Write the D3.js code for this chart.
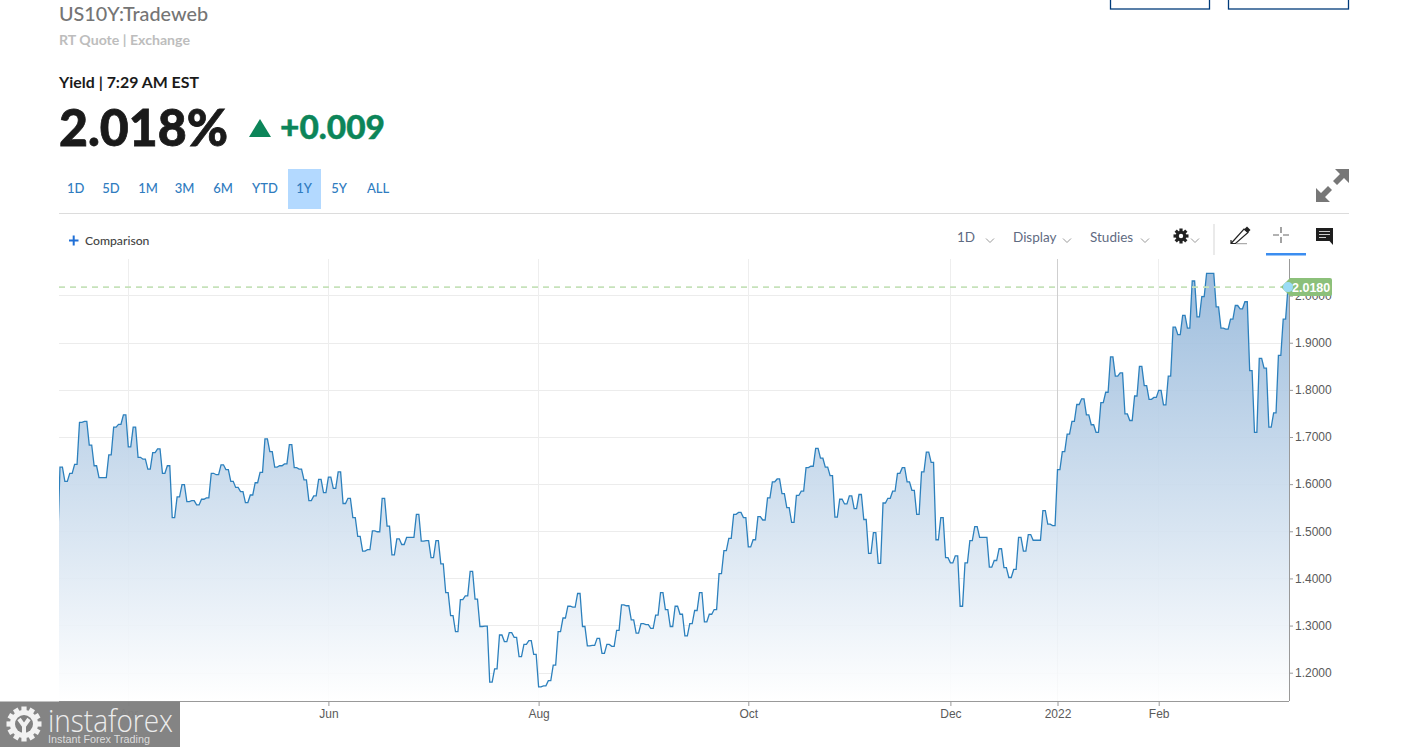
<!DOCTYPE html>
<html>
<head>
<meta charset="utf-8">
<script src="https://cdn.jsdelivr.net/npm/d3@7"></script>
<style>
  html, body { margin: 0; padding: 0; background: #fff; overflow: hidden; }
  svg { display: block; }
  text { font-family: Lato, "Open Sans", sans-serif; }
  .axis text { font-family: "Liberation Sans", Arial, sans-serif; font-size: 12px; fill: #5a5a5a; }
  .axis path, .axis line { stroke: #999; }
  .tool { font-size: 13.5px; fill: #5f6b82; }
  .chev { fill: none; stroke: #9a9a9a; stroke-width: 1; }
</style>
</head>
<body>
<script>
// trading days
var yields = [
  1.462, 1.636, 1.606, 1.623, 1.642, 1.731, 1.733, 1.683, 1.639, 1.614,
  1.614, 1.662, 1.721, 1.727, 1.747, 1.679, 1.721, 1.657, 1.653, 1.632,
  1.667, 1.675, 1.623, 1.639, 1.529, 1.573, 1.599, 1.563, 1.565, 1.556,
  1.568, 1.571, 1.623, 1.620, 1.641, 1.631, 1.606, 1.593, 1.584, 1.561,
  1.577, 1.603, 1.625, 1.696, 1.669, 1.636, 1.639, 1.643, 1.684, 1.635,
  1.632, 1.609, 1.565, 1.575, 1.610, 1.582, 1.615, 1.591, 1.626, 1.559,
  1.570, 1.529, 1.489, 1.458, 1.461, 1.501, 1.499, 1.570, 1.511, 1.450,
  1.484, 1.472, 1.487, 1.487, 1.536, 1.479, 1.480, 1.444, 1.480, 1.431,
  1.370, 1.321, 1.287, 1.355, 1.363, 1.415, 1.356, 1.298, 1.299, 1.180,
  1.208, 1.280, 1.266, 1.285, 1.275, 1.234, 1.260, 1.268, 1.239, 1.170,
  1.172, 1.183, 1.216, 1.287, 1.316, 1.341, 1.339, 1.368, 1.298, 1.257,
  1.258, 1.273, 1.241, 1.260, 1.256, 1.290, 1.344, 1.342, 1.312, 1.284,
  1.304, 1.302, 1.294, 1.322, 1.370, 1.334, 1.298, 1.341, 1.324, 1.278,
  1.304, 1.332, 1.370, 1.308, 1.324, 1.334, 1.410, 1.459, 1.485, 1.536,
  1.540, 1.529, 1.467, 1.482, 1.531, 1.524, 1.571, 1.605, 1.611, 1.580,
  1.550, 1.519, 1.576, 1.585, 1.635, 1.638, 1.676, 1.655, 1.636, 1.618,
  1.530, 1.568, 1.558, 1.575, 1.548, 1.578, 1.525, 1.453, 1.497, 1.432,
  1.560, 1.570, 1.585, 1.623, 1.635, 1.605, 1.587, 1.536, 1.626, 1.668,
  1.646, 1.482, 1.529, 1.444, 1.433, 1.448, 1.341, 1.433, 1.480, 1.510,
  1.487, 1.487, 1.424, 1.438, 1.463, 1.423, 1.402, 1.419, 1.487, 1.458,
  1.493, 1.481, 1.481, 1.544, 1.515, 1.512, 1.631, 1.669, 1.706, 1.733,
  1.769, 1.781, 1.747, 1.726, 1.710, 1.773, 1.795, 1.870, 1.829, 1.836,
  1.749, 1.735, 1.787, 1.850, 1.809, 1.780, 1.784, 1.799, 1.768, 1.829,
  1.933, 1.917, 1.958, 1.931, 2.031, 1.955, 1.998, 2.047, 2.047, 1.976,
  1.931, 1.929, 1.950, 1.979, 1.972, 1.987, 1.841, 1.710, 1.867, 1.846,
  1.721, 1.751, 1.873, 1.950, 2.018
];
var monthLabels = ['Apr', 'Jun', 'Aug', 'Oct', 'Dec', '2022', 'Feb'];
var monthIndex = [15, 56, 99, 142, 184, 206, 227];
var monthPixel = [128.3, 328.4, 538.6, 748.3, 950.4, 1057.5, 1158.7];
var yTicks = [1.2, 1.3, 1.4, 1.5, 1.6, 1.7, 1.8, 1.9, 2.0];
var lastValue = 2.018;
var rangeLabels = ['1D', '5D', '1M', '3M', '6M', 'YTD', '1Y', '5Y', 'ALL'];
var rangeCenters = [75.6, 111, 148, 184.5, 223, 265, 304, 339, 378];

var left = 59, right = 1289, top_ = 259, bottom = 701;

var svg = d3.select('body').append('svg')
    .attr('width', 1422)
    .attr('height', 747);

var defs = svg.append('defs');
defs.append('clipPath').attr('id', 'plot').append('rect')
    .attr('x', left).attr('y', top_)
    .attr('width', right - left).attr('height', bottom - top_);
var grad = defs.append('linearGradient').attr('id', 'fade')
    .attr('gradientUnits', 'userSpaceOnUse')
    .attr('x1', 0).attr('x2', 0).attr('y1', 274).attr('y2', bottom);
grad.append('stop').attr('offset', 0).attr('stop-color', '#94b7da');
grad.append('stop').attr('offset', 1).attr('stop-color', '#ffffff');

// header, stretched to the widths of the original font
function headText(x, y, size, weight, color, width, label) {
  return svg.append('text')
      .attr('x', x).attr('y', y)
      .attr('font-size', size)
      .attr('font-weight', weight)
      .attr('fill', color)
      .attr('textLength', width)
      .attr('lengthAdjust', 'spacingAndGlyphs')
      .text(label);
}
headText(59, 21, 19.5, 500, '#757575', 149, 'US10Y:Tradeweb');
headText(59, 45, 13.5, 700, '#bdbdbd', 131, 'RT Quote | Exchange');
headText(59, 88, 15, 700, '#1a1a1a', 140, 'Yield | 7:29 AM EST');
headText(59, 146, 52, 900, '#1a1a1a', 169, '2.018%').attr('stroke', '#1a1a1a').attr('stroke-width', 0.8);
svg.append('path').attr('d', 'M249,137L260,119L271,137Z').attr('fill', '#0c8559');
headText(280, 139, 33, 900, '#0c8559', 105, '+0.009').attr('stroke', '#0c8559').attr('stroke-width', 0.4);

// buttons cut off at the top
svg.append('rect').attr('x', 1110.5).attr('y', -5).attr('width', 99).attr('height', 14).attr('fill', 'none').attr('stroke', '#003b7a').attr('stroke-width', 1.3);
svg.append('rect').attr('x', 1228.5).attr('y', -5).attr('width', 120).attr('height', 14).attr('fill', 'none').attr('stroke', '#003b7a').attr('stroke-width', 1.3);

// range buttons
svg.append('rect').attr('x', 288).attr('y', 169).attr('width', 33).attr('height', 40).attr('fill', '#b3d9ff');
svg.selectAll('text.range')
    .data(rangeLabels)
    .enter()
    .append('text')
    .attr('class', 'range')
    .attr('x', function (d, i) { return rangeCenters[i]; })
    .attr('y', 193)
    .attr('text-anchor', 'middle')
    .attr('font-size', 13)
    .attr('font-weight', 500)
    .attr('fill', '#2f7cbf')
    .text(function (d) { return d; });

// expand icon
svg.append('path')
    .attr('d', 'M1349,169L1349,183L1344,178L1337,185L1333,181L1340,174L1335,169Z M1316,202L1316,188L1321,193L1328,186L1332,190L1325,197L1330,202Z')
    .attr('fill', '#777');

svg.append('line').attr('x1', 59).attr('x2', 1349).attr('y1', 213.5).attr('y2', 213.5).attr('stroke', '#dcdcdc');

// comparison
svg.append('path').attr('d', 'M69,240.5H78.5M73.7,235.5V245.5').attr('stroke', '#1f6fd6').attr('stroke-width', 2);
svg.append('text').attr('x', 85).attr('y', 245).attr('font-size', 12.2).attr('font-weight', 500).attr('fill', '#444').text('Comparison');

// toolbar
svg.append('text').attr('class', 'tool').attr('x', 957).attr('y', 242).text('1D');
svg.append('text').attr('class', 'tool').attr('x', 1013).attr('y', 242).text('Display');
svg.append('text').attr('class', 'tool').attr('x', 1090).attr('y', 242).text('Studies');
[990, 1067, 1145, 1195].forEach(function (cx) {
  svg.append('path').attr('class', 'chev').attr('d', 'M' + (cx - 4) + ',238.5L' + cx + ',242.5L' + (cx + 4) + ',238.5');
});

var cog = svg.append('g').attr('transform', 'translate(1181,236)');
cog.selectAll('rect').data(d3.range(4)).enter().append('rect')
    .attr('x', -1.6).attr('y', -7.5).attr('width', 3.2).attr('height', 15)
    .attr('fill', '#222')
    .attr('transform', function (d) { return 'rotate(' + d * 45 + ')'; });
cog.append('circle').attr('r', 5.3).attr('fill', '#222');
cog.append('circle').attr('r', 2.2).attr('fill', '#fff');

svg.append('line').attr('x1', 1214).attr('x2', 1214).attr('y1', 224).attr('y2', 255).attr('stroke', '#d5d5d5');
svg.append('path').attr('d', 'M1231,243.5L1244,229L1248,232.5L1235.5,243.5H1231V240').attr('fill', 'none').attr('stroke', '#222').attr('stroke-width', 1.2);
svg.append('path').attr('d', 'M1244,229.5L1247,226.5L1250.5,230L1248,232.5Z').attr('fill', '#222');
svg.append('line').attr('x1', 1236).attr('x2', 1247).attr('y1', 243.7).attr('y2', 243.7).attr('stroke', '#999');
svg.append('path').attr('d', 'M1273,235H1279M1283,235H1289M1281,227V233M1281,237V243').attr('stroke', '#666').attr('stroke-width', 1.2);
svg.append('rect').attr('x', 1266).attr('y', 253).attr('width', 40).attr('height', 2.5).attr('fill', '#3b8df0');
svg.append('path').attr('d', 'M1316,228H1333V245L1329.5,241H1316Z').attr('fill', '#1e1e1e');
svg.append('path').attr('d', 'M1319,231.5H1330M1319,234.5H1330M1319,237.5H1326').attr('stroke', '#ccc').attr('stroke-width', 1);

// scales
var xScale = d3.scaleLinear()
    .domain([0].concat(monthIndex, [yields.length - 1]))
    .range([55.1].concat(monthPixel, [1288]));
var yScale = d3.scaleLinear()
    .domain([1.2, 2.0])
    .range([672.7, 295.6]);

// gridlines
svg.append('g').selectAll('line')
    .data(yTicks)
    .enter()
    .append('line')
    .attr('x1', left).attr('x2', right)
    .attr('y1', function (d) { return Math.floor(yScale(d) + 0.3) + 0.5; })
    .attr('y2', function (d) { return Math.floor(yScale(d) + 0.3) + 0.5; })
    .attr('stroke', '#ececec');
svg.append('g').selectAll('line')
    .data(monthIndex)
    .enter()
    .append('line')
    .attr('x1', function (d) { return Math.floor(xScale(d)) + 0.5; })
    .attr('x2', function (d) { return Math.floor(xScale(d)) + 0.5; })
    .attr('y1', top_).attr('y2', bottom)
    .attr('stroke', function (d, i) { return monthLabels[i] === '2022' ? '#cfcfcf' : '#eeeeee'; });

// each day holds its level for half a step, then moves on
var steps = yields.flatMap(function (v, i) {
  return [{i: i, v: v}, {i: i + 0.5, v: v}];
});

var plot = svg.append('g').attr('clip-path', 'url(#plot)');
plot.append('path')
    .datum(steps)
    .attr('fill', 'url(#fade)')
    .attr('fill-opacity', 0.9)
    .attr('d', d3.area()
      .x(function (d) { return xScale(d.i); })
      .y0(bottom)
      .y1(function (d) { return yScale(d.v); }));
plot.append('path')
    .datum(steps)
    .attr('fill', 'none')
    .attr('stroke', '#2c80bd')
    .attr('stroke-width', 1.3)
    .attr('d', d3.line()
      .x(function (d) { return xScale(d.i); })
      .y(function (d) { return yScale(d.v); }));

// axes
var xAxis = d3.axisBottom(xScale)
    .tickValues(monthIndex)
    .tickSize(5)
    .tickFormat(function (d, i) { return monthLabels[i]; });
svg.append('g')
    .attr('class', 'x axis')
    .attr('transform', 'translate(0,' + bottom + ')')
    .call(xAxis)
    .call(function (g) { g.select('.domain').attr('d', 'M' + left + ',0.5H' + right); });

var yAxis = d3.axisRight(yScale)
    .tickValues(yTicks)
    .tickSize(4)
    .tickPadding(2)
    .tickFormat(d3.format('.4f'));
svg.append('g')
    .attr('class', 'y axis')
    .attr('transform', 'translate(' + right + ',0)')
    .call(yAxis)
    .call(function (g) { g.select('.domain').attr('d', 'M0.5,' + top_ + 'V' + bottom); });

// last value marker
var lastY = yScale(lastValue);
svg.append('line')
    .attr('x1', left).attr('x2', 1284)
    .attr('y1', lastY).attr('y2', lastY)
    .attr('stroke', '#c6e2ba')
    .attr('stroke-width', 1.6)
    .attr('stroke-dasharray', '6,5');
svg.append('path')
    .attr('d', 'M1281,' + lastY + 'L1290,' + (lastY - 9) + 'H1330a2,2 0 0 1 2,2V' + (lastY + 7) + 'a2,2 0 0 1 -2,2H1290Z')
    .attr('fill', '#8cc07a');
svg.append('circle')
    .attr('cx', xScale(yields.length - 1)).attr('cy', lastY).attr('r', 5)
    .attr('fill', '#9adcf5');
svg.append('text')
    .attr('x', 1292).attr('y', lastY + 4.5)
    .attr('font-size', 12.5).attr('font-weight', 700)
    .style('font-family', '"Liberation Sans", Arial, sans-serif')
    .attr('fill', '#fff')
    .text(d3.format('.4f')(lastValue));

// watermark
var logo = svg.append('g');
logo.append('rect').attr('x', 0).attr('y', 701.5).attr('width', 180).attr('height', 46).attr('fill', '#808080').attr('fill-opacity', 0.97);
var gear = logo.append('g').attr('transform', 'translate(24,724)');
gear.selectAll('rect').data(d3.range(6)).enter().append('rect')
    .attr('x', -2.6).attr('y', -17.5).attr('width', 5.2).attr('height', 35)
    .attr('fill', '#f2f2f2')
    .attr('transform', function (d) { return 'rotate(' + d * 30 + ')'; });
gear.append('circle').attr('r', 14).attr('fill', '#f2f2f2');
gear.append('circle').attr('r', 9).attr('fill', '#808080');
gear.append('path').attr('d', 'M-5,-5L0,2V15M5,-5L0,2').attr('fill', 'none').attr('stroke', '#f2f2f2').attr('stroke-width', 4);
logo.append('text').attr('x', 48).attr('y', 732).attr('font-size', 32).attr('font-weight', 300)
    .attr('textLength', 125).attr('lengthAdjust', 'spacingAndGlyphs').attr('fill', '#ececec')
    .style('font-family', '"Open Sans", sans-serif').text('instaforex');
logo.append('text').attr('x', 48).attr('y', 743).attr('font-size', 11.5)
    .attr('textLength', 102).attr('lengthAdjust', 'spacingAndGlyphs').attr('fill', '#dcdcdc')
    .style('font-family', '"Liberation Sans", Arial, sans-serif').text('Instant Forex Trading');
</script>
</body>
</html>
